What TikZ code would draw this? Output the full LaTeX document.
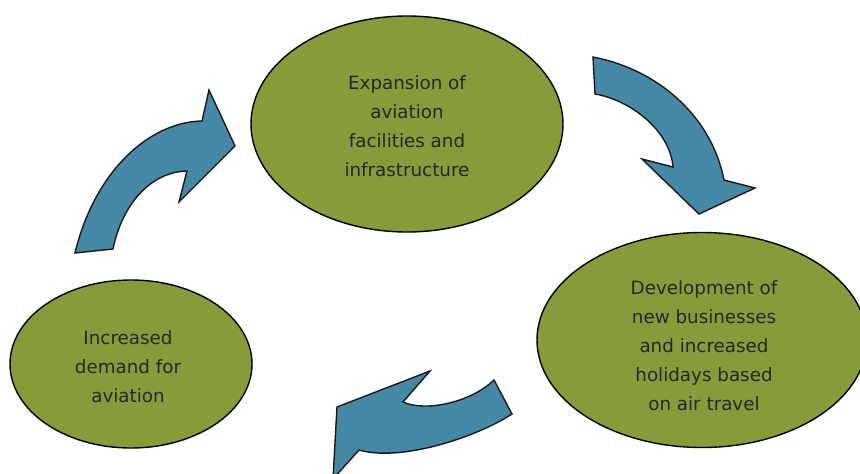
\documentclass[tikz,border=0pt]{standalone}
\usepackage{fontspec}
\setmainfont{DejaVu Sans}
\usetikzlibrary{shapes.geometric}
\definecolor{olivefill}{HTML}{879B3A}
\definecolor{arrowblue}{HTML}{4589A6}
\definecolor{textdark}{HTML}{262626}
\tikzset{
  bubble/.style={ellipse, draw=black, line width=1.4pt, fill=olivefill, inner sep=0pt},
  bubbletext/.style={inner sep=0pt, text=textdark, align=center,
    font=\fontsize{18.3}{29}\selectfont},
  bigarrow/.style={draw=black!90, line width=1.4pt, fill=arrowblue, line join=miter}
}
\begin{document}
\begin{tikzpicture}[x=1pt,y=-1pt]
\path[use as bounding box, clip] (0,0) rectangle (860,474);
\fill[white] (0,0) rectangle (860,474);
% ellipses
\node[bubble, minimum width=312pt, minimum height=216pt] (top) at (407,124) {};
\node[bubbletext] (toplabel) at (407,126.5)
  {Expansion of\\aviation\\facilities and\\infrastructure};
\node[bubble, minimum width=330pt, minimum height=215pt] (right) at (702,340) {};
\node[bubbletext] (rightlabel) at (704,345.5)
  {Development of\\new businesses\\and increased\\holidays based\\on air travel};
\node[bubble, minimum width=242pt, minimum height=168pt] (left) at (131,364) {};
\node[bubbletext] (leftlabel) at (128,366.5)
  {Increased\\demand for\\aviation};
% left arrow (up towards top ellipse)
\draw[bigarrow] (75,253) -- (113,249)
  .. controls (122,205) and (150,172) .. (187,171)
  -- (179,202) -- (235,146) -- (209,90) -- (202,121)
  .. controls (150,122) and (95,170) .. (75,253) -- cycle;
% top-right arrow (down towards right ellipse)
\draw[bigarrow] (593,57) -- (595,94)
  .. controls (630,100) and (670,130) .. (673,167)
  -- (642,159) -- (699,214) -- (755,188) -- (724,180)
  .. controls (712,118) and (660,70) .. (593,57) -- cycle;
% bottom arrow (towards left)
\draw[bigarrow] (494,380) -- (512,414)
  .. controls (475,438) and (400,462) .. (359,450)
  -- (333,479) -- (337,407) -- (430,371) -- (403,402)
  .. controls (425,412) and (470,403) .. (494,380) -- cycle;
\end{tikzpicture}
\end{document}
